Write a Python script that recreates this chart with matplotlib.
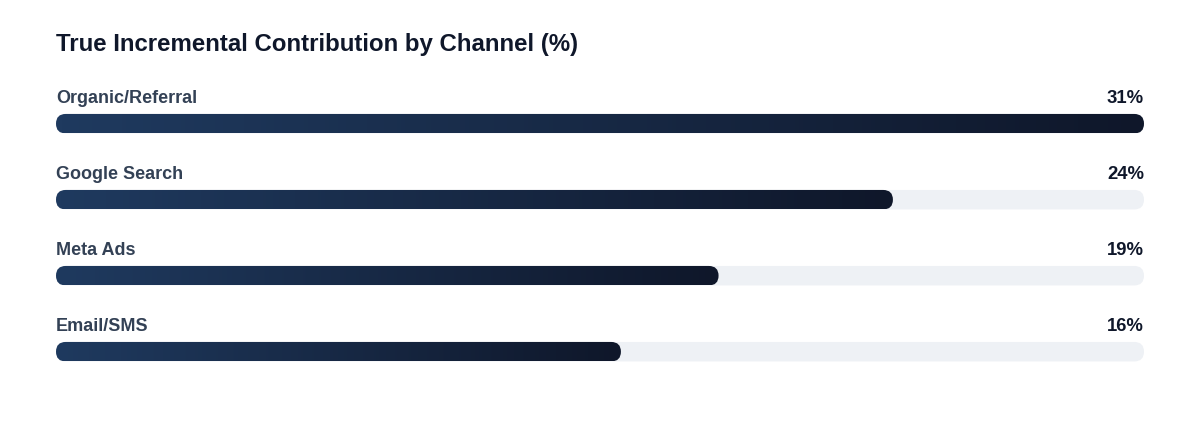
import numpy as np
import matplotlib.pyplot as plt
from matplotlib.patches import FancyBboxPatch
from matplotlib.colors import LinearSegmentedColormap

channels = ['Organic/Referral', 'Google Search', 'Meta Ads', 'Email/SMS']
shares = [31.2, 24.0, 19.0, 16.2]   # bar lengths
title = 'True Incremental Contribution by Channel (%)'

plt.rcParams['font.family'] = ['Liberation Sans', 'DejaVu Sans']

W, H = 1200, 432
fig = plt.figure(figsize=(W / 100, H / 100), dpi=100)
fig.patch.set_facecolor('white')

# bar area: x from 56 px to 1144 px, y in pixel units (top = 0)
left, right = 56, 1144
ax = fig.add_axes((left / W, 0, (right - left) / W, 1))
ax.set_xlim(0, max(shares))
ax.set_ylim(H, 0)
ax.axis('off')

px_per_x = (right - left) / max(shares)
bar_h = 19.5
rnd = bar_h / 2 / px_per_x
cmap = LinearSegmentedColormap.from_list('bar', ['#1f3a5f', '#0f172a'])
grad = np.linspace(0, 1, 256).reshape(1, -1)

fig.text(left / W, 1 - 45 / H, title, fontsize=17.3, fontweight='bold',
         color='#0f172a', va='center', ha='left')

for i, (name, v) in enumerate(zip(channels, shares)):
    yc = 123.7 + 76 * i
    y0 = yc - bar_h / 2
    # track
    track = FancyBboxPatch((0, y0), max(shares), bar_h,
                           boxstyle=f'round,pad=0,rounding_size={rnd}',
                           mutation_aspect=px_per_x,
                           facecolor='#eef1f5', edgecolor='none', zorder=1)
    ax.add_patch(track)
    bar = FancyBboxPatch((0, y0), v, bar_h,
                         boxstyle=f'round,pad=0,rounding_size={rnd}',
                         mutation_aspect=px_per_x,
                         facecolor='none', edgecolor='none', zorder=1)
    ax.add_patch(bar)
    im = ax.imshow(grad, cmap=cmap, aspect='auto', zorder=2,
                   extent=(0, v, y0 + bar_h, y0), interpolation='bilinear')
    im.set_clip_path(bar)
    ax.text(0, yc - 25.5, name, fontsize=13, fontweight='bold',
            color='#334155', va='center', ha='left')
    ax.text(max(shares), yc - 25.5, f'{v:.0f}%', fontsize=13.3, fontweight='bold',
            color='#0f172a', va='center', ha='right')

ax.set_xlim(0, max(shares))
ax.set_ylim(H, 0)

fig.savefig('out.png', dpi=100, facecolor='white')
